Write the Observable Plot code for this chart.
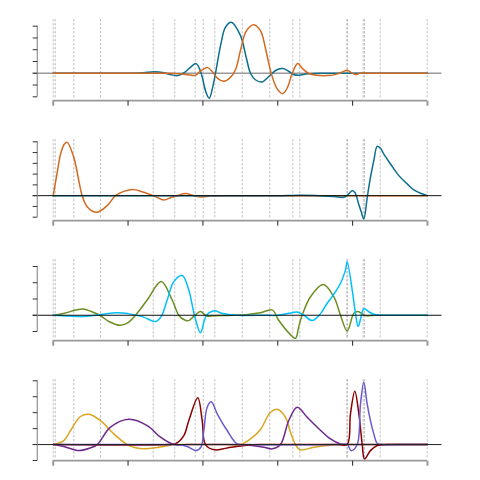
<!DOCTYPE html>
<html><head><meta charset="utf-8">
<script src="https://cdn.jsdelivr.net/npm/d3@7"></script>
<script src="https://cdn.jsdelivr.net/npm/@observablehq/plot@0.6"></script>
<style>body{margin:0;background:#fff} #chart svg{display:block}</style>
</head><body><div id="chart"></div>
<script>
const xTicks = [0, 1, 2, 3, 4, 5];
const vLines = [0, 0.027, 0.275, 0.632, 1.336, 1.624, 1.897, 2.004, 2.159, 2.525, 2.893, 3.201, 3.294, 3.922, 3.932, 4.141, 4.158, 4.368, 4.996];

const p1Blue = [[0,0],[0.9,0],[1.0,0],[1.2,0.04],[1.35,0.13],[1.48,0.04],[1.56,-0.1],[1.66,-0.2],[1.76,0.1],[1.84,0.55],[1.91,0.82],[1.96,0.3],[1.99,-0.3],[2.04,-1.6],[2.084,-2.12],[2.13,-1.2],[2.168,0],[2.24,2.5],[2.30,3.9],[2.378,4.33],[2.502,3.2],[2.58,1.3],[2.636,0],[2.70,-0.55],[2.792,-0.74],[2.86,-0.4],[2.925,0],[2.99,0.3],[3.072,0.4],[3.15,0.15],[3.21,-0.1],[3.28,-0.17],[3.4,-0.05],[3.6,0],[3.8,0],[5,0]];
const p1Orange = [[0,0],[1.4,0],[1.5,0],[1.7,-0.05],[1.82,-0.15],[1.90,-0.17],[1.97,0.2],[2.065,0.48],[2.13,0.1],[2.2,-0.45],[2.279,-0.68],[2.36,-0.4],[2.435,0.3],[2.502,1.95],[2.58,3.6],[2.68,4.13],[2.77,3.6],[2.84,2.0],[2.912,0],[2.99,-1.3],[3.067,-1.73],[3.13,-1.2],[3.193,0],[3.267,0.82],[3.33,0.4],[3.41,0],[3.52,-0.17],[3.66,-0.2],[3.8,-0.05],[3.927,0.25],[3.98,0.05],[4.04,-0.1],[4.1,0],[4.3,0],[5,0]];

const p2Orange = [[0,0],[0.05,2.0],[0.1,3.9],[0.15,4.8],[0.187,4.95],[0.275,3.56],[0.342,1.39],[0.387,0],[0.454,-1.02],[0.578,-1.55],[0.721,-0.93],[0.832,0],[0.943,0.4],[1.077,0.56],[1.21,0.31],[1.336,0],[1.477,-0.4],[1.58,-0.15],[1.656,0],[1.767,0.19],[1.878,0],[1.99,-0.12],[2.1,-0.03],[2.3,0],[2.5,0],[5,0]];
const p2Blue = [[0,0],[2.8,0],[3.0,0],[3.3,0.04],[3.5,0.02],[3.75,-0.08],[3.882,-0.15],[3.93,0.05],[3.994,0.46],[4.03,0.3],[4.08,-0.77],[4.115,-1.5],[4.149,-2.17],[4.195,-0.15],[4.238,1.7],[4.283,3.25],[4.328,4.58],[4.372,4.4],[4.417,3.85],[4.506,2.94],[4.617,1.86],[4.729,1.09],[4.818,0.53],[4.907,0.22],[5.0,0]];

const p3Olive = [[0,0],[0.15,0.12],[0.3,0.32],[0.401,0.39],[0.5,0.25],[0.622,0],[0.75,-0.4],[0.899,-0.62],[1.0,-0.45],[1.099,0],[1.256,0.94],[1.443,2.07],[1.589,0.94],[1.678,0],[1.75,-0.28],[1.811,-0.33],[1.87,-0.1],[1.968,0.23],[2.02,0.05],[2.048,-0.05],[2.15,-0.03],[2.4,0],[2.6,0.05],[2.769,0.15],[2.925,0.33],[3.01,-0.29],[3.15,-1.1],[3.237,-1.42],[3.28,-0.7],[3.326,0],[3.437,1.14],[3.607,1.89],[3.748,1.14],[3.838,0],[3.927,-0.97],[4.016,0.12],[4.069,0.23],[4.14,0.05],[4.172,-0.02],[4.3,0],[4.5,0],[5,0]];
const p3Sky = [[0,0],[0.2,-0.05],[0.4,-0.08],[0.6,0.02],[0.855,0.16],[1.0,0.1],[1.2,-0.1],[1.367,-0.39],[1.44,-0.1],[1.523,0.94],[1.611,2.07],[1.723,2.44],[1.811,1.56],[1.887,0],[1.968,-1.07],[2.048,0],[2.155,0.28],[2.25,0.12],[2.458,0],[2.8,0],[3.0,0],[3.15,0.12],[3.259,0.2],[3.35,0.0],[3.46,-0.33],[3.571,0.1],[3.66,0.74],[3.75,1.3],[3.838,1.97],[3.905,2.79],[3.927,3.3],[3.994,1.56],[4.038,0.12],[4.074,-0.7],[4.11,-0.15],[4.149,0.41],[4.22,0.2],[4.283,0.06],[4.4,0],[4.6,0],[5,0]];

const p4Gold = [[0,0],[0.142,0.25],[0.231,0.88],[0.365,1.76],[0.476,1.9],[0.632,1.5],[0.81,0.67],[0.989,0],[1.1,-0.2],[1.21,-0.27],[1.477,-0.12],[1.611,0],[1.8,0],[2.3,0],[2.5,0],[2.636,0.36],[2.769,0.95],[2.903,2.03],[3.0,2.2],[3.103,1.71],[3.17,0.77],[3.237,0],[3.294,-0.33],[3.481,-0.17],[3.66,-0.06],[3.838,0],[4.0,0],[5,0]];
const p4Purple = [[0,0],[0.142,-0.12],[0.342,-0.38],[0.498,-0.21],[0.588,0],[0.765,1.09],[1.01,1.59],[1.256,1.19],[1.433,0.46],[1.611,0],[1.8,0],[2.4,0],[2.5,0],[2.65,-0.06],[2.814,-0.17],[2.925,-0.27],[3.036,0],[3.147,1.51],[3.259,2.34],[3.393,1.71],[3.527,1.09],[3.704,0.35],[3.838,0.04],[3.95,0],[4.1,0],[5,0]];
const p4Red = [[0,0],[1.55,0],[1.634,0.05],[1.745,0.56],[1.811,1.5],[1.932,2.93],[1.99,1.5],[2.034,0],[2.155,-0.33],[2.324,-0.21],[2.592,-0.04],[2.75,0],[3.8,0],[3.927,0],[3.971,1.93],[4.029,3.35],[4.083,1.93],[4.128,0],[4.158,-0.9],[4.238,-0.38],[4.328,-0.06],[4.45,0],[4.6,0],[5,0]];
const p4Slate = [[0,0],[1.55,0],[1.65,0],[1.79,-0.12],[1.91,-0.38],[1.975,-0.15],[2.012,0.88],[2.057,2.34],[2.111,2.68],[2.191,1.93],[2.324,0.88],[2.458,0.04],[2.6,0],[3.8,0],[3.927,0],[3.981,-0.38],[4.061,0],[4.105,2.55],[4.149,3.91],[4.194,2.55],[4.238,1.5],[4.283,0.67],[4.328,0.08],[4.4,0],[4.6,0],[5,0]];

const panels = [
  {yTicks: [-2,-1,0,1,2,3,4], yRange: [96.3, 25.7], zero: {stroke: "#999", width: 1.7, below: true},
   series: [[p1Blue, "#0b6e8f"], [p1Orange, "#d2691e"]]},
  {yTicks: [-2,-1,0,1,2,3,4,5], yRange: [96.7, 21.3], zero: {stroke: "#111", width: 1, below: false},
   series: [[p2Orange, "#d2691e"], [p2Blue, "#0b6e8f"]]},
  {yTicks: [-1,0,1,2,3], yRange: [91, 26], zero: {stroke: "#111", width: 1, below: false},
   series: [[p3Olive, "#6b8e23"], [p3Sky, "#00bfff"]]},
  {yTicks: [-1,0,1,2,3,4], yRange: [100, 20.3], zero: {stroke: "#222", width: 1, below: false},
   series: [[p4Gold, "#daa520"], [p4Purple, "#6e288c"], [p4Red, "#8b0000"], [p4Slate, "#6a5acd"]]}
];

function spines(yTicks) {
  return (index, scales, values, dims) => {
    const g = d3.create("svg:g");
    const yb = dims.height - dims.marginBottom;
    g.append("line").attr("x1", dims.marginLeft).attr("x2", dims.marginLeft)
      .attr("y1", scales.y(d3.min(yTicks))).attr("y2", scales.y(d3.max(yTicks)))
      .attr("stroke", "#999").attr("stroke-width", 1.3);
    g.append("line").attr("x1", scales.x(xTicks[0])).attr("x2", scales.x(xTicks[xTicks.length - 1]))
      .attr("y1", yb).attr("y2", yb).attr("stroke", "#999").attr("stroke-width", 1.7);
    return g.node();
  };
}

const root = document.getElementById("chart");
for (const p of panels) {
  const zeroMark = Plot.ruleY([0], {stroke: p.zero.stroke, strokeWidth: p.zero.width, insetLeft: -4.6});
  const lines = p.series.map(([data, color]) =>
    Plot.line(data, {x: d => d[0], y: d => d[1], stroke: color, strokeWidth: 1.5, curve: "catmull-rom"}));
  const chart = Plot.plot({
    width: 480, height: 120,
    marginLeft: 37.3, marginRight: 38.5, marginTop: 19, marginBottom: 19.3,
    x: {domain: [0, 5], range: [52.7, 427]},
    y: {domain: [d3.min(p.yTicks), d3.max(p.yTicks)], range: p.yRange},
    marks: [
      Plot.ruleX(vLines, {stroke: "#bbb", strokeWidth: 0.9, strokeDasharray: "2.5,1.5", insetBottom: 3}),
      ...(p.zero.below ? [zeroMark] : []),
      ...lines,
      ...(p.zero.below ? [] : [zeroMark]),
      spines(p.yTicks),
      Plot.axisY(p.yTicks, {tickSize: 4.6, tickFormat: () => "", stroke: "#333", label: null}),
      Plot.axisX(xTicks.slice(1, -1), {tickSize: 5, tickFormat: () => "", stroke: "#222", label: null}),
      Plot.axisX([xTicks[0], xTicks[xTicks.length - 1]], {tickSize: 5, tickFormat: () => "", stroke: "#999", strokeWidth: 2, label: null})
    ]
  });
  root.appendChild(chart);
}
</script>
</body></html>
